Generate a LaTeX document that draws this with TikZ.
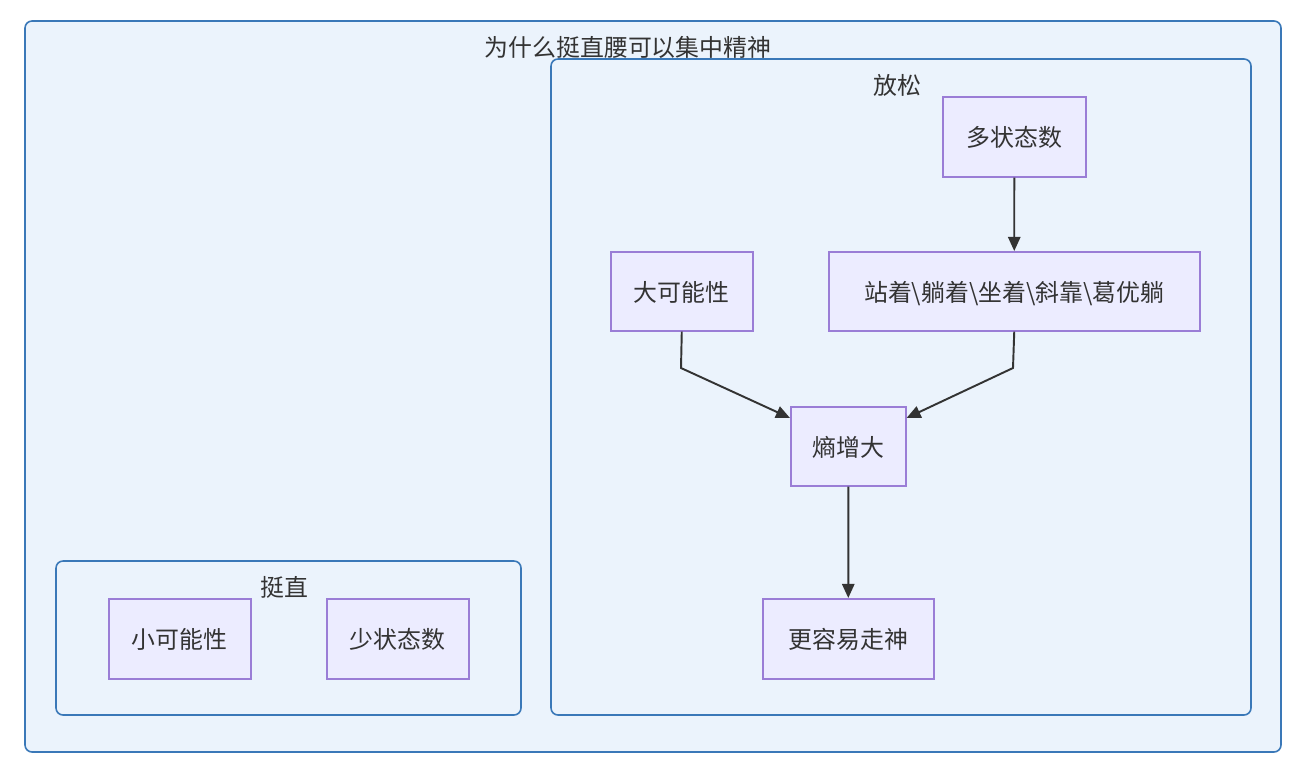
\documentclass[tikz,border=0pt]{standalone}
\usepackage{fontspec}
\setmainfont{Noto Sans CJK SC}
\usetikzlibrary{arrows.meta,calc}
\definecolor{clfill}{HTML}{EBF3FC}
\definecolor{cldraw}{HTML}{3A78B8}
\definecolor{ndfill}{HTML}{ECECFF}
\definecolor{nddraw}{HTML}{9A7DD6}
\definecolor{edge}{HTML}{333333}
\definecolor{txt}{HTML}{333333}
\tikzset{
  px/.style={x=0.02cm,y=-0.02cm},
  cluster/.style={draw=cldraw,fill=clfill,line width=0.9pt,rounded corners=4pt},
  cllabel/.style={text=txt,font=\fontsize{13.6}{16}\selectfont,inner sep=0pt},
  box/.style={draw=nddraw,fill=ndfill,line width=0.9pt,text=txt,font=\fontsize{13.6}{16}\selectfont,inner sep=0pt,anchor=north west,text depth=-4pt},
  link/.style={draw=edge,line width=1.1pt,-{Triangle[length=8pt,width=7pt]}}
}
\begin{document}
\begin{tikzpicture}[px]
\useasboundingbox (0,0) rectangle (1312,764);
\fill[white] (0,0) rectangle (1312,764);
% clusters
\draw[cluster] (25,21) rectangle (1281,752);
\node[cllabel] (title) at (628,47) {为什么挺直腰可以集中精神};
\draw[cluster] (551,59) rectangle (1251,715);
\node[cllabel] (relax) at (897,85) {放松};
\draw[cluster] (56,561) rectangle (521,715);
\node[cllabel] (straight) at (284,587) {挺直};
% nodes
\node[box,minimum width=2.86cm,minimum height=1.6cm] (many) at (942,96) {多状态数};
\node[box,minimum width=2.84cm,minimum height=1.58cm] (bigp) at (610,251) {大可能性};
\node[box,minimum width=7.42cm,minimum height=1.58cm] (pose) at (828,251) {站着\textbackslash 躺着\textbackslash 坐着\textbackslash 斜靠\textbackslash 葛优躺};
\node[box,minimum width=2.3cm,minimum height=1.58cm] (ent) at (790,406) {熵增大};
\node[box,minimum width=3.42cm,minimum height=1.6cm] (dist) at (762,598) {更容易走神};
\node[box,minimum width=2.84cm,minimum height=1.6cm] (smallp) at (108,598) {小可能性};
\node[box,minimum width=2.84cm,minimum height=1.6cm] (few) at (326,598) {少状态数};
% edges
\coordinate (c1) at (681,368);
\coordinate (c2) at (1013,368);
\coordinate (e1) at ($(ent.north west)+(0,12)$);
\coordinate (e2) at ($(ent.north east)+(0,12)$);
\draw[link] (many.south) -- (pose.north);
\draw[link] (bigp.south) -- (c1) -- (e1);
\draw[link] (pose.south) -- (c2) -- (e2);
\draw[link] (ent.south) -- (dist.north);
\end{tikzpicture}
\end{document}
